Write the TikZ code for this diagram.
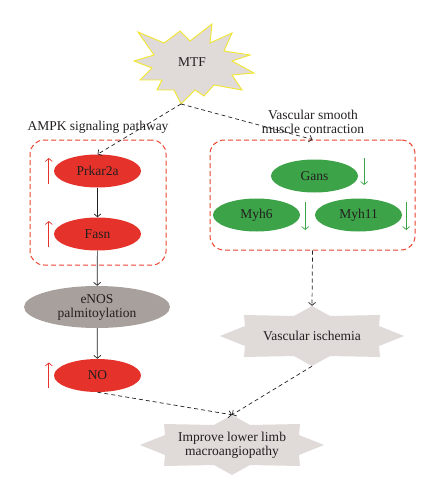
\documentclass[tikz,border=0pt]{standalone}
\usepackage{fontspec}
\setmainfont{Liberation Serif}
\usepackage{tikz}
\usetikzlibrary{arrows.meta,backgrounds,shapes.geometric}
\definecolor{upred}{HTML}{E5322A}
\definecolor{downgreen}{HTML}{3CA348}
\definecolor{enosgrey}{HTML}{A8A09C}
\definecolor{spikegrey}{HTML}{E0DAD8}
\definecolor{burstyellow}{HTML}{F2E62E}
\definecolor{boxred}{HTML}{EC4430}
\definecolor{inkdark}{HTML}{231F20}
\newcommand\spikebox[1]{%
  \begin{scope}[shift={(#1.center)}]
    \fill[spikegrey] (0,-30) -- (18,-20) -- (68,-21) -- (67,-10) -- (92,0)
      -- (67,10) -- (68,21) -- (18,20) -- (0,30) -- (-18,20) -- (-68,21)
      -- (-67,10) -- (-92,0) -- (-67,-10) -- (-68,-21) -- (-18,-20) -- cycle;
  \end{scope}}

\begin{document}
\begin{tikzpicture}[x=1pt,y=-1pt,
    every node/.style={font=\fontsize{13.5}{14}\selectfont, text=inkdark},
    gene/.style={ellipse, minimum width=87pt, minimum height=33pt, inner sep=0pt},
    pathbox/.style={draw=boxred, line width=1pt, dash pattern=on 5pt off 3pt,
      rounded corners=14pt},
    linkarrow/.style={draw=inkdark, line width=0.7pt,
      -{Straight Barb[length=3pt,width=7pt]}},
    dasharrow/.style={linkarrow, dash pattern=on 4pt off 3pt},
    uparrow/.style={draw=upred, line width=0.7pt,
      -{Straight Barb[length=3pt,width=7pt]}},
    downarrow/.style={draw=downgreen, line width=0.7pt,
      -{Straight Barb[length=3pt,width=7pt]}}]
  \useasboundingbox (0,0) rectangle (439,500);
  \node (mtf) at (192,62) {MTF};
  \coordinate (mtftip) at (181,104);
  \node (ampklabel) at (98,127) {AMPK signaling pathway};
  \node[align=center] (vsmlabel) at (313,122) {Vascular smooth\\muscle contraction};
  \node[pathbox, minimum width=136pt, minimum height=125pt] (ampkbox) at (98,202.5) {};
  \node[pathbox, minimum width=205pt, minimum height=110pt] (vsmbox) at (312.5,195) {};
  \node[gene, fill=upred] (prkar) at (97.5,171) {Prkar2a};
  \node[gene, fill=upred] (fasn) at (97.5,234) {Fasn};
  \node[ellipse, fill=enosgrey, minimum width=146pt, minimum height=42pt,
    inner sep=0pt, align=center] (enos) at (97,307) {eNOS\\palmitoylation};
  \node[gene, fill=upred] (no) at (97.5,375.5) {NO};
  \node[gene, fill=downgreen] (gans) at (314.5,176) {Gans};
  \node[gene, fill=downgreen] (myhsix) at (256.5,215) {Myh6};
  \node[gene, fill=downgreen] (myheleven) at (358.5,215) {Myh11};
  \node[minimum width=184pt, minimum height=60pt] (ischemia) at (312,336)
    {Vascular ischemia};
  \node[minimum width=184pt, minimum height=60pt, align=center] (improve)
    at (232,445) {Improve lower limb\\macroangiopathy};
  \begin{scope}[on background layer]
    \begin{scope}[shift={(mtf.center)}]
      \filldraw[fill=spikegrey, draw=burstyellow, line width=0.9pt]
        (-54,-30) -- (-28,-19) -- (-12,-31) -- (-2,-21) -- (20,-38)
        -- (18,-19) -- (40,-29) -- (32,-11) -- (58,-7) -- (40,-1)
        -- (62,11) -- (40,13) -- (50,28) -- (22,23) -- (12,34) -- (3,28)
        -- (-11,42) -- (-18,28) -- (-35,28) -- (-30,18) -- (-52,18)
        -- (-40,6) -- (-58,-1) -- (-38,-7) -- cycle;
    \end{scope}
    \spikebox{ischemia}
    \spikebox{improve}
  \end{scope}
  \draw[dasharrow] (mtftip) -- (prkar.north);
  \draw[dasharrow] (mtftip) -- (vsmbox.north);
  \draw[linkarrow] (prkar) -- (fasn);
  \draw[linkarrow] (fasn) -- (enos);
  \draw[linkarrow] (enos) -- (no);
  \draw[dasharrow] (vsmbox.south) -- (ischemia.north);
  \draw[dasharrow] (no.south) -- (improve.north);
  \draw[dasharrow] (ischemia.south) -- (improve.north);
  \draw[uparrow] ([xshift=-5pt,yshift=-13pt]prkar.west) -- ++(0,-26);
  \draw[uparrow] ([xshift=-5pt,yshift=-13pt]fasn.west) -- ++(0,-26);
  \draw[uparrow] ([xshift=-5pt,yshift=-12pt]no.west) -- ++(0,-25);
  \draw[downarrow] ([xshift=6pt,yshift=18pt]gans.east) -- ++(0,27);
  \draw[downarrow] ([xshift=5pt,yshift=13pt]myhsix.east) -- ++(0,28);
  \draw[downarrow] ([xshift=4pt,yshift=13pt]myheleven.east) -- ++(0,28);
\end{tikzpicture}
\end{document}
